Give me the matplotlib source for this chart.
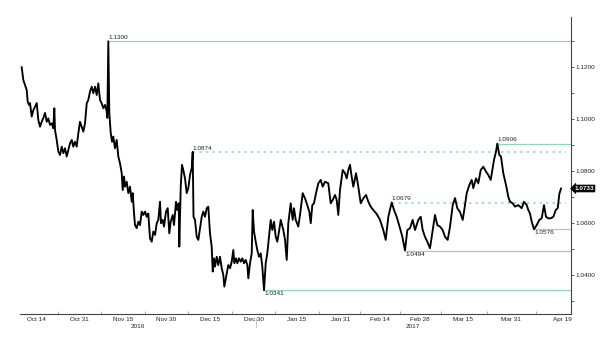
import numpy as np
import matplotlib
matplotlib.use('Agg')
import matplotlib.pyplot as plt
import matplotlib.transforms as mtransforms

# EUR/USD, x = trading days since 2016-10-14 (fractions = intraday)
session = [-3.62, -3.21, -2.78, -2.35, -2.10, -1.77, -1.52, -1.09, -0.68, -0.25,
           0.18, 0.58, 1.01, 1.44, 1.85, 2.28, 2.71, 3.11, 3.54, 3.97,
           4.37, 4.63, 4.80, 5.23, 5.64, 6.07, 6.50, 6.90, 7.33, 7.76,
           8.17, 8.60, 9.03, 9.43, 9.86, 10.29, 10.70, 11.12, 11.55, 11.96,
           12.39, 12.82, 13.22, 13.65, 14.08, 14.49, 14.92, 15.35, 15.75, 16.18,
           16.61, 17.02, 17.45, 17.88, 18.03, 18.28, 18.53, 18.89, 19.22, 19.54,
           19.97, 20.40, 20.81, 21.24, 21.67, 21.92, 22.25, 22.50, 22.93, 23.34,
           23.77, 24.20, 24.45, 24.78, 25.03, 25.46, 25.87, 26.30, 26.73, 27.13,
           27.56, 27.99, 28.39, 28.82, 29.25, 29.66, 30.09, 30.52, 30.92, 31.35,
           31.60, 32.03, 32.36, 32.87, 33.30, 33.70, 34.06, 34.56, 34.89, 35.40,
           35.73, 36.08, 36.23, 36.59, 36.91, 37.24, 37.67, 38.10, 38.51, 38.94,
           39.37, 39.62, 39.82, 40.20, 40.63, 41.04, 41.47, 41.90, 42.30, 42.73,
           43.16, 43.56, 43.99, 44.42, 44.68, 45.01, 45.26, 45.69, 46.09, 46.52,
           46.95, 47.36, 47.61, 48.22, 48.62, 49.05, 49.48, 49.89, 50.14, 50.57,
           50.90, 51.33, 51.76, 52.16, 52.59, 53.02, 53.43, 53.68, 54.11, 54.54,
           54.79, 55.12, 55.55, 55.95, 56.38, 56.81, 57.22, 57.65, 58.08, 58.48,
           58.91, 59.34, 59.75, 60.18, 60.61, 61.01, 61.44, 61.87, 62.53, 62.96,
           63.39, 63.79, 64.40, 64.90, 65.23, 65.66, 66.32, 66.75, 67.43, 68.01,
           68.44, 69.10, 69.46, 69.86, 70.29, 70.80, 71.38, 71.98, 72.49, 73.07,
           73.90, 74.51, 75.02, 75.60, 76.03, 76.43, 76.86, 77.55, 78.13, 78.56,
           78.96, 79.39, 79.82, 80.23, 80.91, 81.49, 82.10, 82.76, 83.44, 84.02,
           84.63, 85.28, 86.14, 86.98, 87.81, 88.42, 89.08, 89.94, 90.52, 91.20,
           92.03, 92.62, 93.30, 93.88, 94.56, 95.24, 95.83, 96.66, 97.27, 97.77,
           98.35, 98.94, 99.62, 100.30, 100.88, 101.47, 102.15, 102.83, 103.41, 104.09,
           104.68, 105.36, 105.94, 106.52, 107.20, 107.89, 108.47, 108.90, 109.55, 110.16,
           110.57, 111.25, 111.83, 112.44, 113.10, 113.78, 114.36, 114.97, 115.38, 115.80,
           116.31, 116.64, 117.14, 117.57, 118.15, 118.84, 119.42, 119.85, 120.53, 121.11,
           121.94, 122.80, 123.39, 124.07, 124.47, 124.90, 125.33, 125.92, 126.60, 127.26,
           127.86, 128.44, 128.95, 129.53, 130.14, 130.80, 131.41, 131.91, 132.32, 132.75]

eurusd = [1.1200, 1.1151, 1.1132, 1.1112, 1.1067, 1.1055, 1.1062, 1.1010, 1.1035, 1.1048,
          1.1062, 1.0997, 1.0971, 1.0990, 1.1005, 1.1024, 1.0990, 1.1003, 1.0978, 1.0984,
          1.0965, 1.1042, 1.0958, 1.0920, 1.0875, 1.0862, 1.0894, 1.0869, 1.0888, 1.0856,
          1.0881, 1.0907, 1.0920, 1.0894, 1.0913, 1.0894, 1.0946, 1.0990, 1.0971, 1.0952,
          1.0984, 1.1061, 1.1074, 1.1106, 1.1125, 1.1100, 1.1125, 1.1093, 1.1138, 1.1074,
          1.1061, 1.1042, 1.1055, 1.1029, 1.1005, 1.1300, 1.1024, 1.0947, 1.0913, 1.0933,
          1.0888, 1.0920, 1.0856, 1.0830, 1.0792, 1.0727, 1.0779, 1.0740, 1.0759, 1.0715,
          1.0740, 1.0682, 1.0715, 1.0637, 1.0592, 1.0580, 1.0605, 1.0592, 1.0644, 1.0631,
          1.0644, 1.0624, 1.0637, 1.0541, 1.0528, 1.0567, 1.0554, 1.0599, 1.0612, 1.0682,
          1.0599, 1.0612, 1.0586, 1.0644, 1.0657, 1.0560, 1.0605, 1.0631, 1.0592, 1.0682,
          1.0650, 1.0676, 1.0509, 1.0740, 1.0824, 1.0804, 1.0772, 1.0715, 1.0734, 1.0785,
          1.0812, 1.0874, 1.0624, 1.0612, 1.0547, 1.0535, 1.0580, 1.0624, 1.0644, 1.0624,
          1.0657, 1.0663, 1.0560, 1.0509, 1.0413, 1.0464, 1.0432, 1.0470, 1.0438, 1.0470,
          1.0426, 1.0400, 1.0355, 1.0406, 1.0438, 1.0426, 1.0451, 1.0496, 1.0445, 1.0464,
          1.0445, 1.0464, 1.0451, 1.0464, 1.0445, 1.0458, 1.0438, 1.0387, 1.0445, 1.0483,
          1.0650, 1.0567, 1.0528, 1.0496, 1.0470, 1.0483, 1.0432, 1.0341, 1.0445, 1.0483,
          1.0547, 1.0612, 1.0573, 1.0605, 1.0547, 1.0528, 1.0567, 1.0612, 1.0573, 1.0535,
          1.0458, 1.0599, 1.0676, 1.0612, 1.0657, 1.0612, 1.0586, 1.0631, 1.0715, 1.0695,
          1.0676, 1.0644, 1.0599, 1.0669, 1.0676, 1.0715, 1.0753, 1.0766, 1.0740, 1.0759,
          1.0753, 1.0676, 1.0689, 1.0708, 1.0689, 1.0631, 1.0727, 1.0804, 1.0792, 1.0772,
          1.0804, 1.0824, 1.0778, 1.0740, 1.0792, 1.0740, 1.0676, 1.0695, 1.0708, 1.0682,
          1.0663, 1.0650, 1.0635, 1.0612, 1.0573, 1.0535, 1.0624, 1.0679, 1.0650, 1.0624,
          1.0580, 1.0547, 1.0494, 1.0573, 1.0580, 1.0612, 1.0573, 1.0612, 1.0624, 1.0573,
          1.0547, 1.0528, 1.0503, 1.0573, 1.0631, 1.0592, 1.0586, 1.0573, 1.0547, 1.0535,
          1.0586, 1.0669, 1.0696, 1.0657, 1.0643, 1.0612, 1.0669, 1.0715, 1.0746, 1.0766,
          1.0734, 1.0772, 1.0753, 1.0804, 1.0817, 1.0798, 1.0785, 1.0766, 1.0804, 1.0843,
          1.0875, 1.0906, 1.0862, 1.0856, 1.0792, 1.0746, 1.0701, 1.0682, 1.0676, 1.0663,
          1.0669, 1.0657, 1.0682, 1.0669, 1.0650, 1.0637, 1.0605, 1.0576, 1.0592, 1.0612,
          1.0618, 1.0669, 1.0624, 1.0618, 1.0618, 1.0624, 1.0650, 1.0657, 1.0712, 1.0733]

# marked levels
level_values = [1.1300, 1.0874, 1.0906, 1.0679, 1.0576, 1.0494, 1.0341]
level_dotted = [False, True, False, True, False, False, False]
level_label_above = [True, True, True, True, False, False, False]

base_date = '2016-10-14'
tick_dates = ['2016-10-14', '2016-10-31', '2016-11-15', '2016-11-30', '2016-12-15',
              '2016-12-30', '2017-01-15', '2017-01-31', '2017-02-14', '2017-02-28',
              '2017-03-15', '2017-03-31', '2017-04-19']
tick_labels = ['Oct 14', 'Oct 31', 'Nov 15', 'Nov 30', 'Dec 15', 'Dec 30', 'Jan 15',
               'Jan 31', 'Feb 14', 'Feb 28', 'Mar 15', 'Mar 31', 'Apr 19']
year_labels = ['2016', '2017']
year_start = '2017-01-02'

y_major = [1.04, 1.06, 1.08, 1.10, 1.12]
y_minor = [1.03, 1.05, 1.07, 1.09, 1.11, 1.13]

plt.rcParams['font.family'] = ['Liberation Sans', 'DejaVu Sans']
FS = 4.6
LEVEL_C = '#8fd6bb'

fig = plt.figure(figsize=(6.0, 3.52), dpi=100)
ax = fig.add_axes([20/600, 1 - 314/352, (571 - 20)/600, (314 - 17)/352])

x = np.array(session)
y = np.array(eurusd)
xmin, xmax = -4.05, 135.27
ymin, ymax = 1.02495, 1.13936

ax.plot(x, y, color='black', lw=1.35, solid_joinstyle='round', zorder=3)

for lv, dotted, above in zip(level_values, level_dotted, level_label_above):
    idx = int(np.where(np.isclose(y, lv, atol=1e-6))[0][0])
    x0 = x[idx]
    if dotted:
        ax.hlines(lv, x0, xmax - 1.3, colors=LEVEL_C, lw=1.1,
                  linestyles=(0, (1.6, 2.6)), zorder=2)
    else:
        ax.hlines(lv, x0, xmax, colors=LEVEL_C, lw=0.9, zorder=2)
    if above:
        ax.annotate(f'{lv:.4f}', (x0, lv), xytext=(0, 0.8), textcoords='offset points',
                    ha='left', va='bottom', fontsize=FS, color='#222222')
    else:
        ax.annotate(f'{lv:.4f}', (x0, lv), xytext=(0, -0.8), textcoords='offset points',
                    ha='left', va='top', fontsize=FS, color='#222222')

# thin vertical connectors at peak markers
ax.vlines(x[int(np.argmax(y))], y[int(np.argmax(y))], y[int(np.argmax(y))] - 0.001,
          colors='#999999', lw=0.5)

ax.set_xlim(xmin, xmax)
ax.set_ylim(ymin, ymax)

# x ticks
tick_pos = np.busday_count(base_date, tick_dates).astype(float)
ax.set_xticks(tick_pos)
ax.set_xticklabels(tick_labels, fontsize=FS, color='#222222')
ax.set_xticks((tick_pos[:-1] + tick_pos[1:]) / 2, minor=True)
ax.tick_params(axis='x', which='major', length=0, pad=2.2)
ax.tick_params(axis='x', which='minor', direction='in', length=2.5, width=0.5,
               color='#888888')

# year labels
ysep = float(np.busday_count(base_date, year_start)) - 0.5
trans = mtransforms.blended_transform_factory(ax.transData, ax.transAxes)
ax.text((xmin + ysep) / 2, -0.035, year_labels[0], transform=trans, ha='center',
        va='top', fontsize=FS, color='#222222')
ax.text((ysep + xmax) / 2, -0.035, year_labels[1], transform=trans, ha='center',
        va='top', fontsize=FS, color='#222222')
ax.plot([ysep, ysep], [-0.012, -0.045], transform=trans, color='#bbbbbb', lw=0.6,
        clip_on=False)

# y axis on the right
ax.yaxis.tick_right()
ax.set_yticks(y_major)
ax.set_yticklabels([f'{v:.4f}' for v in y_major], fontsize=FS, color='#222222')
ax.set_yticks(y_minor, minor=True)
ax.tick_params(axis='y', which='both', direction='out', length=2, width=0.6,
               color='#444444', pad=1)

for s in ['top', 'left']:
    ax.spines[s].set_visible(False)
ax.spines['right'].set_color('#444444')
ax.spines['bottom'].set_color('#444444')
ax.spines['right'].set_linewidth(0.8)
ax.spines['bottom'].set_linewidth(0.8)

# last price tag
last = y[-1]
ytrans = mtransforms.blended_transform_factory(ax.transAxes, ax.transData)
ax.text(1.006, last, f'{last:.4f}', transform=ytrans, ha='left', va='center',
        fontsize=FS, color='white', fontweight='bold',
        bbox=dict(boxstyle='larrow,pad=0.15', fc='black', ec='black', lw=0.5))

fig.savefig('out.png', dpi=100)
